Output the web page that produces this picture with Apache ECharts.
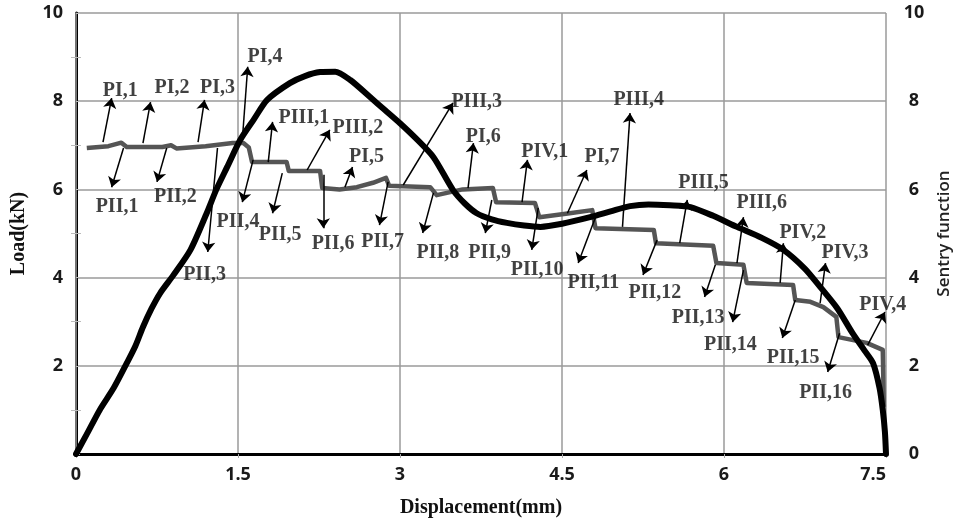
<!DOCTYPE html>
<html>
<head>
<meta charset="utf-8">
<script src="https://cdn.jsdelivr.net/npm/echarts@6/dist/echarts.min.js"></script>
<style>
  html, body { margin: 0; padding: 0; background: #fff; }
  #chart { width: 953px; height: 520px; }
</style>
</head>
<body>
<div id="chart"></div>
<script>
// load curve (Displacement mm, Load kN)
const loadData = [
  [0, 0], [0.1, 0.45], [0.22, 1.0], [0.35, 1.5], [0.47, 2.06], [0.55, 2.45], [0.62, 2.88],
  [0.7, 3.3], [0.78, 3.65], [0.9, 4.05], [1.06, 4.63], [1.21, 5.46], [1.3, 6.0], [1.4, 6.51],
  [1.52, 7.12], [1.65, 7.6], [1.77, 8.03], [1.98, 8.41], [2.12, 8.57], [2.26, 8.66], [2.4, 8.67],
  [2.54, 8.48], [2.72, 8.1], [2.86, 7.8], [3.0, 7.5], [3.15, 7.15], [3.31, 6.73], [3.49, 5.99],
  [3.6, 5.68], [3.71, 5.46], [3.85, 5.32], [3.99, 5.24], [4.15, 5.18], [4.3, 5.15], [4.5, 5.22],
  [4.76, 5.37], [4.95, 5.5], [5.13, 5.62], [5.3, 5.66], [5.5, 5.64], [5.69, 5.6], [5.9, 5.4],
  [6.12, 5.15], [6.35, 4.9], [6.55, 4.63], [6.75, 4.2], [6.89, 3.79], [7.05, 3.3], [7.19, 2.74],
  [7.3, 2.35], [7.38, 2.06], [7.44, 1.5], [7.47, 1.0], [7.49, 0.5], [7.5, 0]
];

// sentry function (stepped)
const sentryData = [
  [0.1, 6.94], [0.3, 6.98], [0.42, 7.06], [0.47, 6.96], [0.8, 6.96], [0.88, 7.0], [0.93, 6.93],
  [1.2, 6.98], [1.45, 7.05], [1.55, 7.05], [1.6, 6.95], [1.63, 6.62], [1.95, 6.62], [1.97, 6.42],
  [2.26, 6.42], [2.28, 6.03], [2.44, 6.0], [2.6, 6.05], [2.75, 6.15], [2.87, 6.26], [2.9, 6.08],
  [3.28, 6.05], [3.34, 5.87], [3.58, 6.0], [3.86, 6.03], [3.89, 5.71], [4.25, 5.69], [4.29, 5.37],
  [4.57, 5.46], [4.78, 5.53], [4.81, 5.12], [5.35, 5.08], [5.37, 4.78], [5.9, 4.72], [5.93, 4.33],
  [6.18, 4.29], [6.21, 3.88], [6.64, 3.83], [6.66, 3.49], [6.8, 3.45], [6.92, 3.33], [7.04, 3.11],
  [7.06, 2.65], [7.32, 2.52], [7.47, 2.36], [7.48, 1.07]
];

const xTicks = [0, 1.5, 3, 4.5, 6, 7.5];

// annotations: label, arrow start (on curve), arrow tip, label centre
const noteLabels = [
  "PI,1", "PI,2", "PI,3", "PI,4", "PIII,1", "PIII,2", "PI,5", "PIII,3", "PI,6", "PIV,1",
  "PI,7", "PIII,4", "PIII,5", "PIII,6", "PIV,2", "PIV,3", "PIV,4",
  "PII,1", "PII,2", "PII,3", "PII,4", "PII,5", "PII,6", "PII,7", "PII,8", "PII,9",
  "PII,10", "PII,11", "PII,12", "PII,13", "PII,14", "PII,15", "PII,16"
];
const noteFrom = [
  [0.25, 7.07], [0.62, 7.05], [1.13, 7.07], [1.54, 7.12], [1.78, 6.62], [2.14, 6.44], [2.49, 6.05],
  [3.03, 6.1], [3.63, 6.03], [4.13, 5.71], [4.55, 5.46], [5.06, 5.15], [5.59, 4.78], [6.12, 4.33],
  [6.52, 3.88], [6.89, 3.42], [7.33, 2.47],
  [0.44, 6.94], [0.84, 6.94], [1.31, 6.94], [1.64, 6.67], [1.91, 6.37], [2.29, 6.33], [2.89, 6.17],
  [3.31, 5.92], [3.85, 5.76], [4.28, 5.58], [4.81, 5.37], [5.38, 4.85], [5.92, 4.29], [6.18, 4.17],
  [6.66, 3.49], [7.07, 2.74]
];
const noteTo = [
  [0.33, 8.07], [0.69, 7.98], [1.19, 8.03], [1.59, 8.78], [1.82, 7.53], [2.35, 7.35], [2.56, 6.51],
  [3.49, 7.96], [3.68, 7.05], [4.18, 6.67], [4.73, 6.44], [5.13, 7.73], [5.66, 5.76], [6.18, 5.37],
  [6.55, 4.78], [6.94, 4.33], [7.49, 3.22],
  [0.33, 6.05], [0.75, 6.17], [1.22, 4.58], [1.54, 5.71], [1.82, 5.46], [2.29, 5.12], [2.81, 5.19],
  [3.21, 5.01], [3.79, 5.01], [4.22, 4.63], [4.65, 4.33], [5.25, 4.06], [5.82, 3.56], [6.08, 2.99],
  [6.54, 2.63], [6.96, 1.86]
];
const notePos = [
  [0.41, 8.23], [0.89, 8.3], [1.31, 8.3], [1.75, 9.0], [2.11, 7.62], [2.61, 7.39], [2.69, 6.73],
  [3.71, 7.98], [3.77, 7.19], [4.34, 6.85], [4.87, 6.73], [5.21, 8.03], [5.81, 6.15], [6.35, 5.69],
  [6.73, 5.01], [7.12, 4.56], [7.47, 3.38],
  [0.38, 5.6], [0.92, 5.83], [1.19, 4.06], [1.5, 5.26], [1.89, 4.97], [2.38, 4.76], [2.84, 4.81],
  [3.35, 4.56], [3.83, 4.56], [4.27, 4.17], [4.79, 3.88], [5.36, 3.65], [5.76, 3.08], [6.06, 2.47],
  [6.64, 2.18], [6.94, 1.38]
];

const chart = echarts.init(document.getElementById("chart"));

const tickFont = {
  color: "#1a1a1a",
  fontFamily: "Open Sans",
  fontWeight: "bold",
  fontSize: 18
};
const gridLine = { show: true, lineStyle: { color: "#9a9a9a", width: 1.5 } };

chart.setOption({
  animation: false,
  backgroundColor: "#fff",
  grid: { left: 76, right: 67, top: 13, bottom: 66, containLabel: false, outerBoundsMode: "none" },
  xAxis: {
    type: "value",
    min: 0,
    max: 7.5,
    interval: 1.5,
    name: "Displacement(mm)",
    nameLocation: "middle",
    nameGap: 44,
    nameTextStyle: {
      fontFamily: "Liberation Serif",
      fontWeight: "bold",
      fontSize: 20,
      color: "#111"
    },
    axisLine: { show: true, onZero: false, lineStyle: { color: "#000", width: 3 } },
    axisTick: { show: true, length: 4, lineStyle: { color: "#aaa" } },
    axisLabel: Object.assign({ margin: 12, alignMaxLabel: "right",
      formatter: v => xTicks.includes(+v.toFixed(1)) ? String(v) : "" }, tickFont),
    splitLine: gridLine
  },
  yAxis: [
    {
      type: "value",
      min: 0,
      max: 10,
      interval: 2,
      name: "Load(kN)",
      nameLocation: "middle",
      nameRotate: 90,
      nameGap: 47,
      nameTextStyle: {
        fontFamily: "Liberation Serif",
        fontWeight: "bold",
        fontSize: 20,
        color: "#111"
      },
      axisLine: { show: true, onZero: false, lineStyle: { color: "#000", width: 3 } },
      axisTick: { show: false },
      minorTick: { show: true, splitNumber: 2, length: 5, lineStyle: { color: "#bbb" } },
      axisLabel: Object.assign({ margin: 13, formatter: v => (v === 0 ? "" : v) }, tickFont),
      splitLine: gridLine
    },
    {
      type: "value",
      position: "right",
      min: 0,
      max: 10,
      interval: 2,
      name: "Sentry function",
      nameLocation: "middle",
      nameRotate: 90,
      nameGap: 50,
      nameTextStyle: {
        fontFamily: "Open Sans",
        fontWeight: 600,
        fontSize: 17,
        color: "#222"
      },
      axisLine: { show: true, lineStyle: { color: "#9a9a9a", width: 1.5 } },
      axisTick: { show: true, length: 4, lineStyle: { color: "#bbb" } },
      minorTick: { show: true, splitNumber: 2, length: 5, lineStyle: { color: "#bbb" } },
      axisLabel: Object.assign({ margin: 28, align: "center" }, tickFont),
      splitLine: { show: false }
    }
  ],
  series: [
    {
      name: "Sentry function",
      type: "line",
      yAxisIndex: 1,
      data: sentryData,
      showSymbol: false,
      lineStyle: { color: "#555", width: 4.5, join: "round" },
      z: 3
    },
    {
      name: "Load",
      type: "line",
      yAxisIndex: 0,
      data: loadData,
      smooth: 0.25,
      showSymbol: false,
      lineStyle: { color: "#000", width: 6, cap: "round", join: "round" },
      z: 4
    },
    {
      name: "arrows",
      type: "lines",
      coordinateSystem: "cartesian2d",
      xAxisIndex: 0,
      yAxisIndex: 0,
      symbol: ["none", "arrow"],
      symbolSize: 10,
      lineStyle: { color: "#000", width: 1.5, opacity: 1 },
      data: noteFrom.map((p, i) => ({ coords: [p, noteTo[i]] })),
      z: 5
    },
    {
      name: "notes",
      type: "scatter",
      xAxisIndex: 0,
      yAxisIndex: 0,
      symbolSize: 1,
      itemStyle: { color: "rgba(0,0,0,0)" },
      data: notePos.map((p, i) => [p[0], p[1], noteLabels[i]]),
      label: {
        show: true,
        position: "inside",
        formatter: p => p.value[2],
        fontFamily: "Liberation Serif",
        fontWeight: "bold",
        fontSize: 20,
        color: "#111"
      },
      z: 6
    }
  ]
});
</script>
</body>
</html>
